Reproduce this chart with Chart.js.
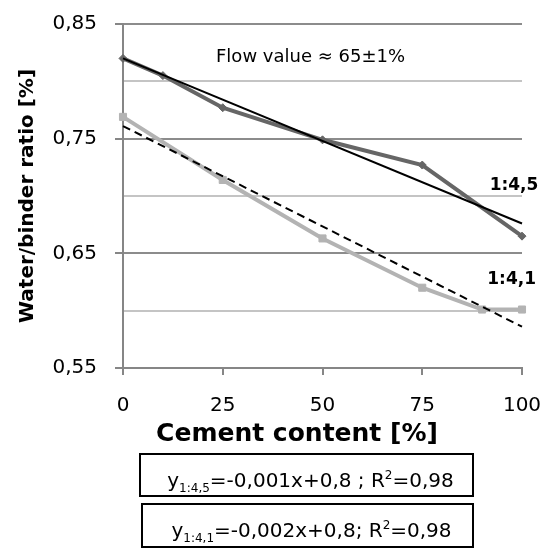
<!DOCTYPE html>
<html lang="en">
<head>
<meta charset="UTF-8">
<title>Water/binder ratio</title>
<script src="https://cdn.jsdelivr.net/npm/chart.js"></script>
<style>
  body { margin: 0; background: #fff; }
  canvas { display: block; }
</style>
</head>
<body>
<canvas id="grafico" width="548" height="550"></canvas>
<script>
// mix 1:4,5
const x45 = [0, 10, 25, 50, 75, 100];
const y45 = [0.820, 0.805, 0.777, 0.749, 0.727, 0.665];
// mix 1:4,1
const x41 = [0, 25, 50, 75, 90, 100];
const y41 = [0.769, 0.714, 0.663, 0.620, 0.601, 0.601];
// linear trend lines (ends)
const trendX = [0, 100];
const trend45 = [0.820, 0.676];
const trend41 = [0.761, 0.586];

const seriesNames = ['1:4,5', '1:4,1'];
const flowNote = 'Flow value \u2248 65\u00b11%';
const xTitle = 'Cement content [%]';
const eqSub = ['1:4,5', '1:4,1'];
const eqMid = ['=-0,001x+0,8 ; R', '=-0,002x+0,8; R'];
const eqEnd = ['=0,98', '=0,98'];

const FONT = '"DejaVu Sans", sans-serif';

function pts(xs, ys) {
    return xs.map((v, i) => ({ x: v, y: ys[i] }));
}

const notes = {
    id: 'notes',
    afterDraw(chart) {
        const { ctx, scales: { x, y } } = chart;
        ctx.save();
        ctx.fillStyle = '#000';
        ctx.textBaseline = 'alphabetic';
        ctx.textAlign = 'center';
        ctx.font = '18px ' + FONT;
        ctx.fillText(flowNote, x.getPixelForValue(47), y.getPixelForValue(0.817));
        ctx.font = 'bold 17px ' + FONT;
        ctx.fillText(seriesNames[0], x.getPixelForValue(98), y.getPixelForValue(0.705));
        ctx.fillText(seriesNames[1], x.getPixelForValue(97.4), y.getPixelForValue(0.623));

        // axis title sits a bit left of the plot centre in the original
        ctx.font = 'bold 25px ' + FONT;
        ctx.fillText(xTitle, 297, 441);

        // equation boxes under the axis
        const boxes = [[140, 454, 333, 42, 487], [142, 504, 331, 43, 537]];
        ctx.textAlign = 'left';
        ctx.strokeStyle = '#000';
        ctx.lineWidth = 2;
        boxes.forEach((b, i) => {
            ctx.strokeRect(b[0], b[1], b[2], b[3]);
            const parts = [
                { t: 'y', f: '20px ' + FONT, dy: 0 },
                { t: eqSub[i], f: '12px ' + FONT, dy: 5 },
                { t: eqMid[i], f: '20px ' + FONT, dy: 0 },
                { t: '2', f: '12px ' + FONT, dy: -8 },
                { t: eqEnd[i], f: '20px ' + FONT, dy: 0 }
            ];
            let total = 0;
            parts.forEach(p => { ctx.font = p.f; p.w = ctx.measureText(p.t).width; total += p.w; });
            let cx = b[0] + b[2] / 2 + 4 - total / 2;
            parts.forEach(p => {
                ctx.font = p.f;
                ctx.fillText(p.t, cx, b[4] + p.dy);
                cx += p.w;
            });
        });
        ctx.restore();
    }
};

const ctx = document.getElementById('grafico').getContext('2d');
new Chart(ctx, {
    type: 'scatter',
    data: {
        datasets: [
            {
                label: 'trend 1:4,5',
                data: pts(trendX, trend45),
                showLine: true,
                borderColor: '#000',
                borderWidth: 2,
                pointRadius: 0,
                order: 0
            },
            {
                label: 'trend 1:4,1',
                data: pts(trendX, trend41),
                showLine: true,
                borderColor: '#000',
                borderWidth: 2,
                borderDash: [8, 5],
                pointRadius: 0,
                order: 0
            },
            {
                label: seriesNames[0],
                data: pts(x45, y45),
                showLine: true,
                borderColor: '#666666',
                backgroundColor: '#666666',
                borderWidth: 4,
                pointStyle: 'rectRot',
                pointRadius: 4,
                pointBorderWidth: 1,
                order: 1
            },
            {
                label: seriesNames[1],
                data: pts(x41, y41),
                showLine: true,
                borderColor: '#b3b3b3',
                backgroundColor: '#b3b3b3',
                borderWidth: 4,
                pointStyle: 'rect',
                pointRadius: 5,
                pointBorderWidth: 1,
                order: 1
            }
        ]
    },
    options: {
        responsive: false,
        animation: false,
        clip: false,
        layout: { padding: { left: 0, right: 26, top: 24, bottom: 100 } },
        plugins: {
            legend: { display: false },
            tooltip: { enabled: false }
        },
        scales: {
            x: {
                type: 'linear',
                min: 0,
                max: 100,
                ticks: {
                    stepSize: 25,
                    padding: 19,
                    color: '#000',
                    font: { family: FONT, size: 20 }
                },
                grid: {
                    drawOnChartArea: false,
                    tickLength: 7,
                    tickColor: '#868686',
                    lineWidth: 2
                },
                border: { color: '#868686', width: 2 },
                afterFit(scale) {
                    scale.height = 82;
                    scale.paddingLeft = 0;
                    scale.paddingRight = 0;
                }
            },
            y: {
                min: 0.55,
                max: 0.85,
                ticks: {
                    stepSize: 0.05,
                    padding: 18,
                    color: '#000',
                    font: { family: FONT, size: 20 },
                    callback: (v, i) => i % 2 === 0 ? v.toFixed(2).replace('.', ',') : ''
                },
                grid: {
                    tickLength: 8,
                    lineWidth: 2,
                    color: c => c.index % 2 === 0 ? '#8c8c8c' : '#c4c4c4',
                    tickColor: c => c.index % 2 === 0 ? '#868686' : 'rgba(0,0,0,0)'
                },
                border: { color: '#868686', width: 2 },
                title: {
                    display: true,
                    text: 'Water/binder ratio [%]',
                    color: '#000',
                    font: { family: FONT, size: 20, weight: 'bold' },
                    padding: { top: 16, bottom: 0 }
                },
                afterFit(scale) {
                    scale.width = 123;
                    scale.paddingTop = 0;
                    scale.paddingBottom = 0;
                }
            }
        }
    },
    plugins: [notes]
});
</script>
</body>
</html>
